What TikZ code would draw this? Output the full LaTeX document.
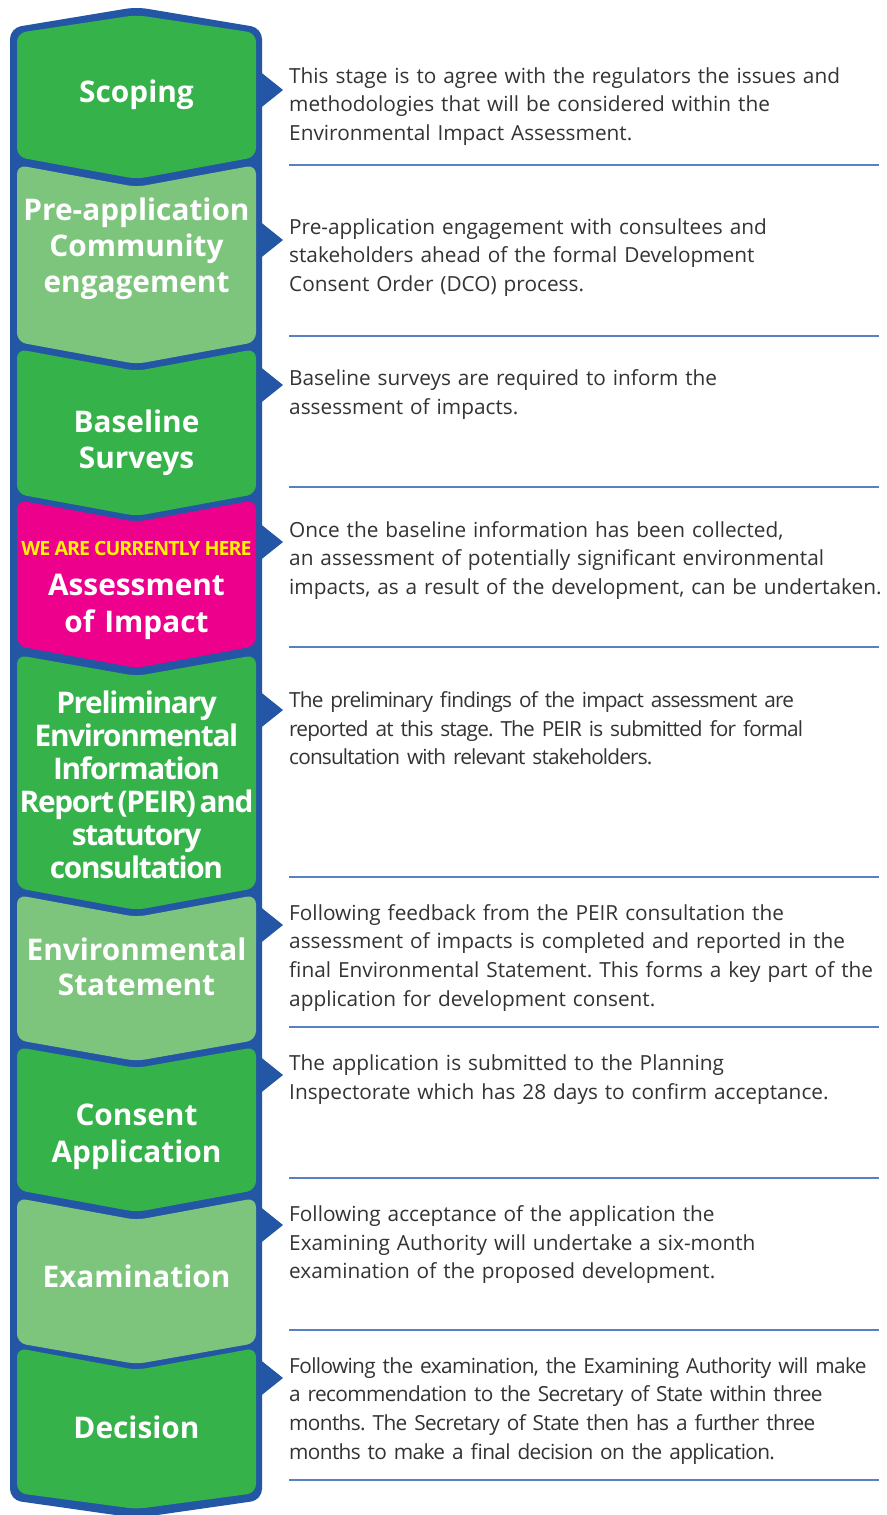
\documentclass[tikz,border=0pt]{standalone}
\usepackage{fontspec}
\setmainfont{Open Sans}
\frenchspacing
\newcommand\tightspace{\spaceskip=0.12em\relax}
\definecolor{bblue}{HTML}{2356A5}
\definecolor{dgreen}{HTML}{35B24A}
\definecolor{lgreen}{HTML}{7DC57C}
\definecolor{hotpink}{HTML}{EC008C}
\definecolor{hereyellow}{HTML}{FFF200}
\definecolor{txtgrey}{HTML}{333333}
\definecolor{rule}{HTML}{5A80C4}
\tikzset{
  stagefill/.style={rounded corners=9pt},
  title/.style={text=white, font=\bfseries\fontsize{29.8}{36}\selectfont, text width=250pt, align=center, anchor=base, inner sep=0pt},
  peirtitle/.style={text=white, font=\bfseries\fontsize{29.8}{33}\selectfont\addfontfeatures{LetterSpace=-4.5}, text width=250pt, align=center, anchor=base, inner sep=0pt},
  desc/.style={text=txtgrey, font=\fontsize{20.8}{28.7}\selectfont\frenchspacing, text width=620pt, align=left, anchor=base west, inner sep=0pt},
  tightdesc/.style={desc, font=\fontsize{20.8}{28.7}\selectfont\addfontfeatures{LetterSpace=#1}\frenchspacing},
  pointer/.style={fill=bblue},
  sep/.style={draw=rule, line width=1.2pt}
}
\begin{document}
\begin{tikzpicture}[x=1pt,y=-1pt]
\useasboundingbox (0,0) rectangle (886,1515);
\fill[white] (0,0) rectangle (886,1515);
% outer border
\fill[bblue, rounded corners=11pt] (10,28) -- (136.5,7) -- (262,28) -- (262,1500) -- (136.5,1518) -- (10,1500) -- cycle;
% pointers
\foreach \t in {90,240,385,542,710,925,1075,1225,1378}{
  \fill[pointer] (258,\t-20) -- (283,\t) -- (258,\t+20) -- cycle;
}
% stages
\fill[dgreen, stagefill] (17,33) -- (136.5,15) -- (256,33) -- (256,157) -- (136.5,179) -- (17,157) -- cycle;
\fill[lgreen, stagefill] (17,165) -- (136.5,187) -- (256,165) -- (256,342) -- (136.5,364) -- (17,342) -- cycle;
\fill[dgreen, stagefill] (17,349) -- (136.5,371) -- (256,349) -- (256,494) -- (136.5,516) -- (17,494) -- cycle;
\fill[hotpink, stagefill] (17,500) -- (136.5,522) -- (256,500) -- (256,646) -- (136.5,668) -- (17,646) -- cycle;
\fill[dgreen, stagefill] (17,655) -- (136.5,676) -- (256,655) -- (256,888) -- (136.5,910) -- (17,888) -- cycle;
\fill[lgreen, stagefill] (17,895) -- (136.5,917) -- (256,895) -- (256,1040) -- (136.5,1061) -- (17,1040) -- cycle;
\fill[dgreen, stagefill] (17,1047) -- (136.5,1068) -- (256,1047) -- (256,1190) -- (136.5,1212) -- (17,1190) -- cycle;
\fill[lgreen, stagefill] (17,1198) -- (136.5,1220) -- (256,1198) -- (256,1343) -- (136.5,1364) -- (17,1343) -- cycle;
\fill[dgreen, stagefill] (17,1348) -- (136.5,1370) -- (256,1348) -- (256,1493) -- (136.5,1509) -- (17,1493) -- cycle;
% titles
\node[title] (t1) at (136.5,102) {Scoping};
\node[title] (t2) at (136.5,220) {Pre-application\\Community\\engagement};
\node[title] (t3) at (136.5,432) {Baseline\\Surveys};
\node[text=hereyellow, font=\bfseries\fontsize{19.6}{24}\selectfont\addfontfeatures{LetterSpace=-5}, anchor=base, inner sep=0pt] (here) at (136.5,555) {WE ARE CURRENTLY HERE};
\node[title, font=\bfseries\fontsize{29.8}{37}\selectfont] (t4) at (136.5,595) {Assessment\\of Impact};
\node[peirtitle] (t5) at (136.5,713) {\tightspace Preliminary\\Environmental\\Information\\Report (PEIR) and\\statutory\\consultation};
\node[title, font=\bfseries\fontsize{29.8}{35}\selectfont] (t6) at (136.5,960) {Environmental\\Statement};
\node[title, font=\bfseries\fontsize{29.8}{37}\selectfont] (t7) at (136.5,1125) {Consent\\Application};
\node[title] (t8) at (136.5,1287) {Examination};
\node[title] (t9) at (136.5,1438) {Decision};
% descriptions
\node[desc] (d1) at (289,83) {This stage is to agree with the regulators the issues and\\methodologies that will be considered within the\\Environmental Impact Assessment.};
\node[desc] (d2) at (289,234) {Pre-application engagement with consultees and\\stakeholders ahead of the formal Development\\Consent Order (DCO) process.};
\node[desc] (d3) at (289,385.5) {Baseline surveys are required to inform the\\assessment of impacts.};
\node[desc] (d4) at (289,537) {Once the baseline information has been collected,\\an assessment of potentially significant environmental\\impacts, as a result of the development, can be undertaken.};
\node[tightdesc=-4] (d5) at (289,707.5) {The preliminary findings of the impact assessment are\\reported at this stage. The PEIR is submitted for formal\\consultation with relevant stakeholders.};
\node[desc] (d6) at (289,920) {Following feedback from the PEIR consultation the\\assessment of impacts is completed and reported in the\\final Environmental Statement. This forms a key part of the\\application for development consent.};
\node[desc] (d7) at (289,1070.5) {The application is submitted to the Planning\\Inspectorate which has 28 days to confirm acceptance.};
\node[desc] (d8) at (289,1221.5) {Following acceptance of the application the\\Examining Authority will undertake a six-month\\examination of the proposed development.};
\node[tightdesc=-3] (d9) at (289,1373) {Following the examination, the Examining Authority will make\\a recommendation to the Secretary of State within three\\months. The Secretary of State then has a further three\\months to make a final decision on the application.};
% separator rules
\foreach \y in {165,336,487,647,877,1027,1178,1330,1480}{
  \draw[sep] (289,\y) -- (879,\y);
}
\end{tikzpicture}
\end{document}
